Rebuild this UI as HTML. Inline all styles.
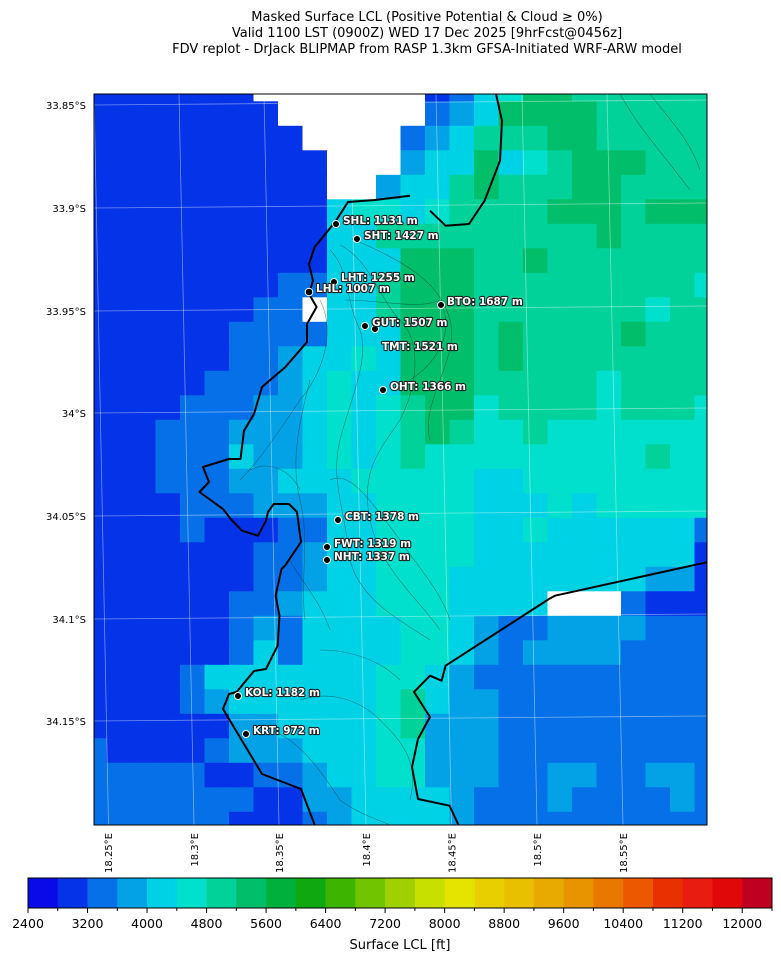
<!DOCTYPE html>
<html><head><meta charset="utf-8"><style>
html,body{margin:0;padding:0;background:#fff}
svg{display:block;font-family:"DejaVu Sans","Liberation Sans",sans-serif}
.lb{font-size:10.5px;font-weight:bold;fill:#fff;stroke:#222;stroke-width:2.2px;paint-order:stroke;stroke-linejoin:round}
.tk{font-size:10px;fill:#000}
.cbl{font-size:12.5px;fill:#000}
</style></head><body>
<svg id="s" width="781" height="962" viewBox="0 0 781 962" xmlns="http://www.w3.org/2000/svg">
<text x="427" y="21" text-anchor="middle" font-size="13">Masked Surface LCL (Positive Potential &amp; Cloud ≥ 0%)</text>
<text x="427" y="37" text-anchor="middle" font-size="13">Valid 1100 LST (0900Z) WED 17 Dec 2025 [9hrFcst@0456z]</text>
<text x="427" y="53" text-anchor="middle" font-size="13">FDV replot - DrJack BLIPMAP from RASP 1.3km GFSA-Initiated WRF-ARW model</text>
<defs><clipPath id="cp"><rect x="94" y="94" width="613" height="731"/></clipPath></defs>
<g clip-path="url(#cp)">
<g id="grid"></g>
<g stroke="#ffffff" stroke-opacity="0.45" stroke-width="0.8" fill="none">
<line x1="94" y1="94" x2="108.5" y2="825"/><line x1="179" y1="94" x2="194" y2="825"/>
<line x1="264" y1="94" x2="279" y2="825"/><line x1="350" y1="94" x2="366" y2="825"/>
<line x1="436" y1="94" x2="451.5" y2="825"/><line x1="522" y1="94" x2="537" y2="825"/>
<line x1="607" y1="94" x2="623" y2="825"/>
<line x1="94" y1="105" x2="707" y2="100"/><line x1="94" y1="208" x2="707" y2="203"/>
<line x1="94" y1="311" x2="707" y2="306"/><line x1="94" y1="413" x2="707" y2="408"/>
<line x1="94" y1="516" x2="707" y2="511"/><line x1="94" y1="619" x2="707" y2="614"/>
<line x1="94" y1="721" x2="707" y2="716"/>
</g>
<g stroke="#0a3030" stroke-opacity="0.55" stroke-width="0.6" fill="none">
<path d="M330,250 C350,270 345,300 360,330 C370,360 350,400 340,440 C330,480 345,510 350,560 C360,600 400,620 430,640"/>
<path d="M340,245 C370,260 380,300 400,320 C420,340 420,380 400,420 C380,450 360,470 370,520 C380,570 420,600 440,630"/>
<path d="M355,240 C400,260 440,280 450,320 C460,360 420,400 430,440"/>
<path d="M320,300 C335,330 325,370 300,400 C280,430 260,460 240,480"/>
<path d="M310,380 C300,420 290,460 300,500 C310,540 300,580 305,620"/>
<path d="M300,700 C330,690 360,700 380,720 C400,740 420,760 410,800"/>
<path d="M270,730 C300,740 320,770 340,800 C360,815 380,820 390,825"/>
<path d="M320,650 C350,650 380,660 400,680"/>
<path d="M345,300 C380,300 420,310 440,300 C455,330 440,360 410,380"/>
<path d="M330,480 C350,470 370,500 400,540 C420,570 440,590 450,620"/>
<path d="M250,470 C270,460 290,470 300,490"/>
<path d="M290,560 C300,580 320,600 330,630"/>
<path d="M620,94 C640,130 660,150 690,190"/>
<path d="M650,94 C670,120 690,140 700,170"/>
</g>
<g stroke="#000" stroke-width="2" fill="none" stroke-linejoin="round">
<polyline points="314.7,825 301,789 262,774 223,709 229,694 236.6,692 254,671 266,669 277.6,645.7 279.5,615.7 275.6,595.7 281.5,569 285,565.7 301,542 297,512 289,504 273.7,504 268,512 266,520.7 258,535.7 242,530.7 230.7,519 223,509 199.5,492 209,482 203,467 228.8,459 240.5,459 244,430.7 254,414 262,387 285.4,367 307,342 307,324 316.6,307 309,294 313,280.7 309,264 314.7,247 328,230.7 336,220.7 348,202 375,200 410,195.7"/>
<polyline points="496,94 502,120.7 500,160.7 484.6,200.7 469,224 445.6,225.7 430,210.7"/>
<polyline points="708,562 555,595.7 549,599 445.6,665.7 441.6,680.7 430,675.7 414,692 430,717 418,739 412,767 418,799 449.5,805.7 459,826"/>
</g>
</g>
<rect x="94" y="94" width="613" height="731" fill="none" stroke="#000" stroke-width="1"/>
<g class="tk" text-anchor="end">
<text x="86" y="109">33.85°S</text><text x="86" y="212">33.9°S</text>
<text x="86" y="315">33.95°S</text><text x="86" y="417">34°S</text>
<text x="86" y="520">34.05°S</text><text x="86" y="623">34.1°S</text>
<text x="86" y="725">34.15°S</text>
</g>
<g class="tk" text-anchor="end">
<text transform="translate(112,833) rotate(-90)">18.25°E</text>
<text transform="translate(198,833) rotate(-90)">18.3°E</text>
<text transform="translate(283,833) rotate(-90)">18.35°E</text>
<text transform="translate(370,833) rotate(-90)">18.4°E</text>
<text transform="translate(455.5,833) rotate(-90)">18.45°E</text>
<text transform="translate(541,833) rotate(-90)">18.5°E</text>
<text transform="translate(627,833) rotate(-90)">18.55°E</text>
</g>
<g fill="#000" stroke="#fff" stroke-width="1">
<circle cx="336" cy="224" r="3.5"/><circle cx="357" cy="239" r="3.5"/>
<circle cx="334" cy="282" r="3.5"/><circle cx="309" cy="292" r="3.8"/>
<circle cx="441" cy="305" r="3.5"/><circle cx="365" cy="326" r="3.5"/>
<circle cx="375" cy="329" r="3.5"/><circle cx="383" cy="390" r="3.5"/>
<circle cx="338" cy="520" r="3.5"/><circle cx="327" cy="547" r="3.5"/>
<circle cx="327" cy="560" r="3.5"/><circle cx="238" cy="696" r="3.5"/>
<circle cx="246" cy="734" r="3.5"/>
</g>
<g class="lb">
<text x="343" y="224">SHL: 1131 m</text>
<text x="364" y="239">SHT: 1427 m</text>
<text x="341" y="281">LHT: 1255 m</text>
<text x="316" y="292">LHL: 1007 m</text>
<text x="447" y="305">BTO: 1687 m</text>
<text x="372" y="326">GUT: 1507 m</text>
<text x="382" y="350">TMT: 1521 m</text>
<text x="390" y="390">OHT: 1366 m</text>
<text x="345" y="520">CBT: 1378 m</text>
<text x="334" y="547">FWT: 1319 m</text>
<text x="334" y="560">NHT: 1337 m</text>
<text x="245" y="696">KOL: 1182 m</text>
<text x="253" y="734">KRT: 972 m</text>
</g>
<g id="cb"></g>
<rect x="28" y="878" width="744" height="30" fill="none" stroke="#000" stroke-width="1"/>
<g id="cbt" class="cbl" text-anchor="middle"></g>
<text x="400" y="949" text-anchor="middle" font-size="13">Surface LCL [ft]</text>
</svg>
<script>
var ns="http://www.w3.org/2000/svg";
var C={D:"#0433e8",M:"#0670e8",L:"#03a2e6",C:"#00d2e6",T:"#00e0cc",G:"#00d29a",K:"#00be6a",W:"#ffffff"};
var R=[
"DDDDDDDWWWWWW"+"WDMCTKKGGGGGG",
"DDDDDDDDWWWWW"+"WMLCKKKKGGGGG",
"DDDDDDDDDWWWW"+"MLCGGGKKGGGGG",
"DDDDDDDDDDWWW"+"LCCKCTGKKKGGG",
"DDDDDDDDDDWWL"+"CCGKGGGKKGGGG",
"DDDDDDDDDDCTT"+"CTGGGGKKKGKKK",
"DDDDDDDDDDCCG"+"GGGGGGGGKGGGG",
"DDDDDDDDDDCCC"+"KKKGGKGGGGGGG",
"DDDDDDDDMMCCG"+"KKKGGGGGGGGGT",
"DDDDDDDMMWCCG"+"KKKGGGGGGGTGG",
"DDDDDDMMMMCCC"+"KKKGKGGGGKGGG",
"DDDDDDMMLCCTC"+"KKKGKGGGGGGGG",
"DDDDDMMMLCTCC"+"KKKGGGGGTGGGG",
"DDDDMMMLLCTCT"+"GKKTGGGGTGGGT",
"DDDMMMLLLCTCT"+"GKGTTGTTTTTTT",
"DDDMMMCLLCTCT"+"GTTTTTTTTTGTT",
"DDDMMMLLCCCTT"+"TTTCCTTTTTTTT",
"DDDDMMMLLLCCT"+"TTTCCCTCTTTTT",
"DDDDMDDDMMCCT"+"TTTCCTCCCCCCM",
"DDDDDDDMMLCCT"+"TTTCCCCCCCCCD",
"DDDDDDDMMLCCT"+"TTCCCCCCCCLLD",
"DDDDDDMMLCCCT"+"TTCCCCWWWMDDD",
"DDDDDDMLMCCCC"+"TTCLMMLLLLMMM",
"DDDDDDMCMCCCC"+"TTCLMLLLLMMMM",
"DDDDMCCCCCCCT"+"TCLMMMMMMMMMM",
"DDDDMLCCCCCCT"+"GCLLMMMMMMMMM",
"DDDDDDLLCCCCT"+"GLLLMMMMMMMMM",
"MDDDDMLLLCCCT"+"TLLLMMMMMMMMM",
"MMMMMDDMMLCCT"+"TLLLMMLLMMLLM",
"MMMMMMMDDLLCC"+"CCLMMMLMMMMLM",
"MMMMMMDDDMLCC"+"CCLMMMMMMMMMM"];
var g=document.getElementById("grid");
for(var i=0;i<R.length;i++)for(var j=0;j<26;j++){var r=document.createElementNS(ns,"rect");
r.setAttribute("x",(82+24.5*j).toFixed(1));r.setAttribute("y",(76.8+24.5*i).toFixed(1));
r.setAttribute("width","25");r.setAttribute("height","25");r.setAttribute("fill",C[R[i][j]]||"#0670e8");g.appendChild(r);}
var P=["#0a0ae8","#0433e8","#0670e8","#03a2e6","#00d2e6","#00e0cc","#00d29a","#00be6a","#00b03c","#10a810","#3cb400","#70c400","#a0d000","#c8e000","#e4e400","#e8d000","#e8c000","#e8aa00","#e89400","#e87800","#ec5800","#e83000","#e81c10","#e00808","#c00020"];
var cb=document.getElementById("cb"),w=744/25;
for(var k=0;k<25;k++){var r=document.createElementNS(ns,"rect");r.setAttribute("x",(28+w*k).toFixed(2));r.setAttribute("y","878");r.setAttribute("width",(w+0.3).toFixed(2));r.setAttribute("height","30");r.setAttribute("fill",P[k]);cb.appendChild(r);}
var t=document.getElementById("cbt");
for(var k=0;k<=25;k++){var x=28+w*k;var l=document.createElementNS(ns,"line");l.setAttribute("x1",x);l.setAttribute("x2",x);l.setAttribute("y1","908");l.setAttribute("y2",k%2?"911":"913");l.setAttribute("stroke","#000");t.appendChild(l);
if(k%2==0&&k<25){var tx=document.createElementNS(ns,"text");tx.setAttribute("x",x);tx.setAttribute("y","928");tx.textContent=String(2400+400*k);t.appendChild(tx);}}
</script>
</body></html>
